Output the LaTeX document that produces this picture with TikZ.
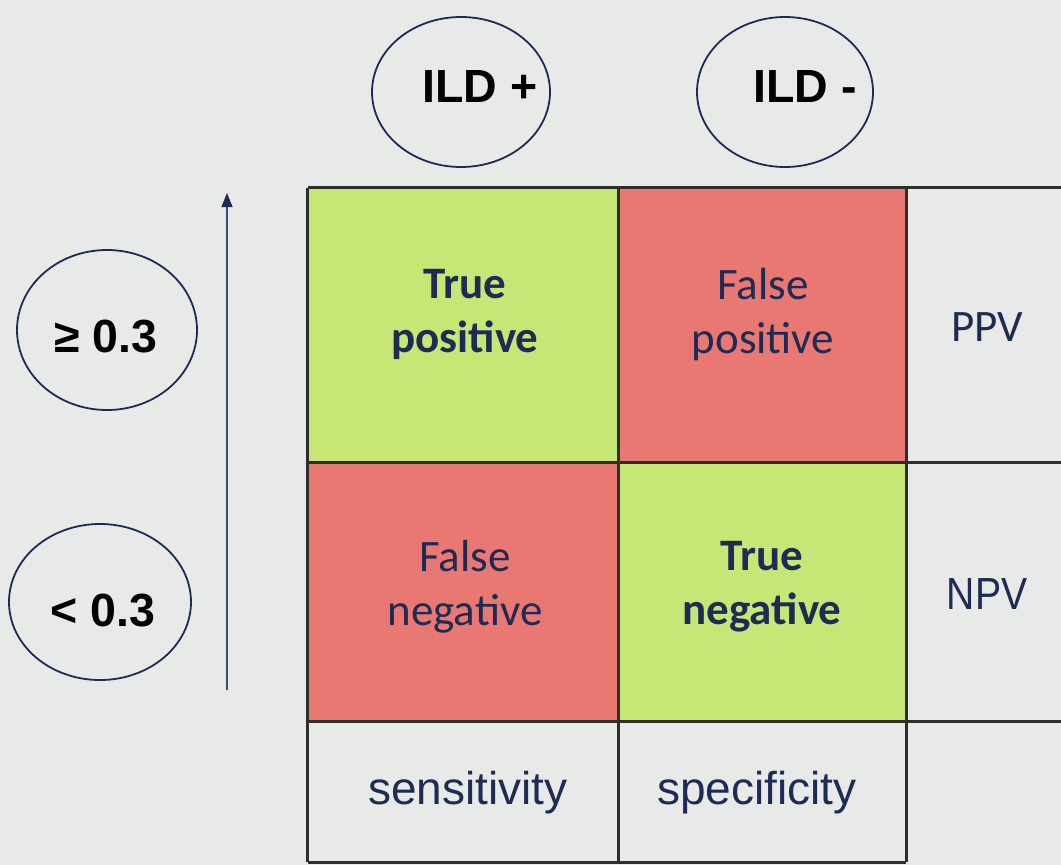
\documentclass[tikz,border=0pt]{standalone}
\usepackage{fontspec}
\setmainfont{Carlito}
\newfontfamily\arialfont{Liberation Sans}
\newfontfamily\narrowfont[FakeStretch=0.87]{Liberation Sans}
\usetikzlibrary{shapes.geometric,arrows.meta}
\definecolor{paper}{HTML}{E8EAE7}
\definecolor{cellgreen}{HTML}{C6E675}
\definecolor{cellred}{HTML}{E97872}
\definecolor{inknavy}{HTML}{1E2B55}
\definecolor{gridgrey}{HTML}{2E2E2E}
\definecolor{arrowblue}{HTML}{3C4B78}

\begin{document}
\begin{tikzpicture}[x=1pt,y=-1pt,
		cell/.style={rectangle,inner sep=0pt},
		celltext/.style={text=inknavy,align=center,inner sep=0pt,font=\fontsize{45}{54}\selectfont},
		armtext/.style={celltext,font=\arialfont\fontsize{46}{52}\selectfont},
		oval/.style={ellipse,draw=inknavy,line width=1.8pt,inner sep=0pt},
		ovaltext/.style={font=\arialfont\bfseries\fontsize{46.5}{52}\selectfont},
		gridline/.style={draw=gridgrey,line width=2.8pt}]
		\fill[paper] (0,0) rectangle (1061,865);
		\clip (0,0) rectangle (1061,865);
		\node[cell,fill=cellgreen,minimum width=310pt,minimum height=274pt] (tp) at (463,325) {};
		\node[cell,fill=cellred,minimum width=288pt,minimum height=274pt] (fp) at (762,325) {};
		\node[cell,minimum width=162pt,minimum height=274pt] (ppv) at (987,325) {};
		\node[cell,fill=cellred,minimum width=310pt,minimum height=259pt] (fn) at (463,591.5) {};
		\node[cell,fill=cellgreen,minimum width=288pt,minimum height=259pt] (tn) at (762,591.5) {};
		\node[cell,minimum width=162pt,minimum height=259pt] (npv) at (987,591.5) {};
		\node[cell,minimum width=310pt,minimum height=141pt] (sens) at (463,791.5) {};
		\node[cell,minimum width=288pt,minimum height=141pt] (spec) at (762,791.5) {};
		\node[celltext] (tptext) at (465,314) {\bfseries True\\\bfseries positive};
		\node[celltext] (fptext) at (763,314) {False\\positive};
		\node[celltext] (ppvtext) at (987,327) {PPV};
		\node[celltext] (fntext) at (465,587) {False\\negative};
		\node[celltext] (tntext) at (762,587) {\bfseries True\\\bfseries negative};
		\node[armtext,font=\narrowfont\fontsize{45}{52}\selectfont] (npvtext) at (987,594) {NPV};
		\node[armtext] (senstext) at (468,793) {sensitivity};
		\node[armtext] (spectext) at (757,793) {specificity};
		\draw[gridline] (tp.north west) -- (ppv.north east);
		\draw[gridline] (tp.south west) -- (ppv.south east);
		\draw[gridline] (fn.south west) -- (npv.south east);
		\draw[gridline] (sens.south west) -- (spec.south east);
		\draw[gridline] (tp.north west) -- (sens.south west);
		\draw[gridline] (tp.north east) -- (sens.south east);
		\draw[gridline] (fp.north east) -- (spec.south east);
		\node[oval,minimum width=178pt,minimum height=150pt] (ildpos) at (461,92) {};
		\node[ovaltext] (ildpostext) at (480,87) {ILD +};
		\node[oval,minimum width=176pt,minimum height=150pt] (ildneg) at (785,92) {};
		\node[ovaltext] (ildnegtext) at (805,87) {ILD -};
		\node[oval,minimum width=180pt,minimum height=160pt] (high) at (107,330) {};
		\node[ovaltext] (hightext) at (106,337) {≥ 0.3};
		\node[oval,minimum width=182pt,minimum height=156pt] (low) at (100,602) {};
		\node[ovaltext] (lowtext) at (103,611) {< 0.3};
		\coordinate (arrlow) at (227,690);
		\coordinate (arrhigh) at (227,193);
		\draw[-{Triangle[width=11pt,length=14pt,color=inknavy]},line width=1.3pt,arrowblue] (arrlow) -- (arrhigh);
	\end{tikzpicture}
\end{document}
